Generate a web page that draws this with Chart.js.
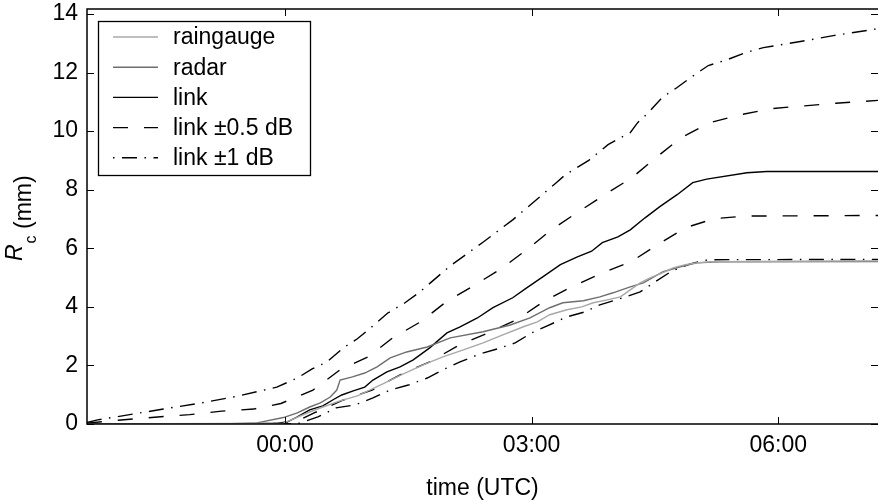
<!DOCTYPE html>
<html>
<head>
<meta charset="utf-8">
<script src="https://cdn.jsdelivr.net/npm/chart.js@4.4.1/dist/chart.umd.min.js"></script>
<style>
  html, body { margin: 0; padding: 0; background: #fff; }
  #wrap { width: 878px; height: 502px; }
</style>
</head>
<body>
<div id="wrap"><canvas id="rainChart" width="878" height="502"></canvas></div>
<script>
// hours relative to 00:00 UTC, cumulative rain in mm
var gaugeTime = [-2.41, -0.55, -0.02, 0.30, 0.46, 0.67, 0.88, 1.03, 1.19, 1.44, 1.68, 1.92, 2.17, 2.41, 2.65, 2.90, 3.07, 3.22, 3.43, 3.61, 3.75, 3.92, 4.08, 4.20, 4.32, 4.44, 4.59, 4.72, 4.87, 5.01, 5.17, 7.22];
var gaugeRain = [0, 0.02, 0.03, 0.41, 0.58, 0.79, 0.96, 1.16, 1.37, 1.71, 2.02, 2.29, 2.53, 2.77, 3.04, 3.32, 3.49, 3.73, 3.90, 4.00, 4.14, 4.24, 4.34, 4.58, 4.82, 4.99, 5.16, 5.33, 5.44, 5.50, 5.54, 5.57];

var radarTime = [-2.41, -0.67, -0.34, -0.02, 0.15, 0.30, 0.43, 0.55, 0.63, 0.67, 0.82, 0.97, 1.12, 1.28, 1.48, 1.73, 2.01, 2.41, 2.74, 2.98, 3.22, 3.38, 3.63, 3.83, 3.99, 4.20, 4.36, 4.60, 4.81, 5.01, 5.29, 7.22];
var radarRain = [0, 0.01, 0.04, 0.22, 0.38, 0.58, 0.72, 0.92, 1.16, 1.50, 1.61, 1.74, 1.95, 2.26, 2.46, 2.63, 2.94, 3.15, 3.38, 3.62, 3.97, 4.14, 4.21, 4.34, 4.48, 4.68, 4.82, 5.20, 5.37, 5.50, 5.54, 5.55];

var linkTime = [-2.41, -0.5, 0.0, 0.15, 0.30, 0.46, 0.58, 0.69, 0.83, 0.97, 1.07, 1.24, 1.40, 1.56, 1.76, 1.97, 2.13, 2.34, 2.53, 2.77, 2.94, 3.14, 3.35, 3.55, 3.73, 3.86, 4.05, 4.20, 4.38, 4.56, 4.77, 4.96, 5.13, 5.62, 5.86, 7.22];
var linkRain = [0, 0.01, 0.03, 0.24, 0.48, 0.62, 0.82, 0.99, 1.13, 1.26, 1.50, 1.78, 1.95, 2.19, 2.60, 3.11, 3.32, 3.62, 3.97, 4.31, 4.65, 5.03, 5.44, 5.70, 5.90, 6.19, 6.39, 6.63, 7.04, 7.42, 7.83, 8.24, 8.36, 8.58, 8.62, 8.62];

var linkHalfUpTime = [-2.41, -2.03, -1.55, -1.16, -0.77, -0.38, -0.05, 0.34, 0.67, 1.01, 1.31, 1.65, 1.96, 2.27, 2.63, 2.94, 3.24, 3.56, 3.89, 4.22, 4.51, 4.82, 5.17, 5.54, 5.92, 6.30, 6.70, 7.22];
var linkHalfUpRain = [0.03, 0.13, 0.24, 0.32, 0.44, 0.51, 0.70, 1.16, 1.85, 2.29, 2.94, 3.49, 4.17, 4.68, 5.30, 5.95, 6.63, 7.23, 7.83, 8.41, 9.09, 9.78, 10.29, 10.56, 10.77, 10.86, 10.95, 11.05];

var linkHalfDownTime = [-2.41, -0.5, -0.1, 0.18, 0.38, 0.71, 1.06, 1.44, 1.76, 2.12, 2.47, 2.82, 3.16, 3.50, 3.86, 4.21, 4.53, 4.87, 5.22, 5.60, 7.22];
var linkHalfDownRain = [0, 0, 0.02, 0.14, 0.41, 0.82, 1.16, 1.74, 2.12, 2.70, 3.11, 3.56, 4.21, 4.70, 5.16, 5.54, 6.12, 6.70, 7.01, 7.10, 7.12];

var linkOneUpTime = [-2.41, -2.28, -1.48, -1.02, -0.56, -0.10, 0.15, 0.33, 0.51, 0.71, 0.88, 1.07, 1.25, 1.46, 1.64, 2.01, 2.40, 2.77, 3.13, 3.30, 3.41, 3.69, 3.93, 4.20, 4.29, 4.42, 4.59, 4.77, 4.95, 5.15, 5.38, 5.60, 5.82, 6.27, 6.67, 7.22];
var linkOneUpRain = [0.05, 0.14, 0.51, 0.72, 0.96, 1.26, 1.57, 1.88, 2.12, 2.60, 2.91, 3.35, 3.79, 4.14, 4.51, 5.40, 6.19, 6.97, 7.83, 8.24, 8.51, 8.99, 9.54, 9.95, 10.29, 10.63, 11.15, 11.49, 11.86, 12.24, 12.44, 12.68, 12.85, 13.06, 13.26, 13.50];

var linkOneDownTime = [-2.41, 0.0, 0.18, 0.40, 0.62, 0.85, 1.07, 1.28, 1.50, 1.73, 1.92, 2.13, 2.37, 2.58, 2.80, 3.00, 3.19, 3.43, 3.65, 3.83, 4.11, 4.32, 4.50, 4.71, 4.93, 5.15, 7.22];
var linkOneDownRain = [0, 0, 0.03, 0.24, 0.55, 0.65, 0.89, 1.16, 1.33, 1.57, 1.85, 2.12, 2.39, 2.56, 2.77, 3.11, 3.35, 3.66, 3.83, 4.07, 4.31, 4.51, 4.85, 5.23, 5.47, 5.61, 5.62];

var xTickHours = [0, 3, 6];
var xTickLabels = ['00:00', '03:00', '06:00'];
var yTickValues = [0, 2, 4, 6, 8, 10, 12, 14];

var FONT = '"Liberation Sans", Arial, Helvetica, sans-serif';
var DASHED = [15, 16];
var DASHDOT = [15, 7.5, 1.5, 7.5];

function pairs(times, values) {
    var out = [];
    for (var i = 0; i < times.length; i++) out.push({ x: times[i], y: values[i] });
    return out;
}

function line(label, times, values, color, dash, legendDash) {
    return {
        label: label,
        data: pairs(times, values),
        borderColor: color,
        borderWidth: 1.4,
        borderDash: dash,
        legendDash: legendDash,
        pointRadius: 0,
        tension: 0,
        fill: false
    };
}

var datasets = [
    line('raingauge', gaugeTime, gaugeRain, '#a8a8a8', [], []),
    line('radar', radarTime, radarRain, '#6e6e6e', [], []),
    line('link', linkTime, linkRain, '#000', [], []),
    line('link \u00b10.5 dB', linkHalfUpTime, linkHalfUpRain, '#000', DASHED, DASHED),
    line('', linkHalfDownTime, linkHalfDownRain, '#000', DASHED, null),
    line('link \u00b11 dB', linkOneUpTime, linkOneUpRain, '#000', DASHDOT, [1.5, 7.5, 15, 7.5]),
    line('', linkOneDownTime, linkOneDownRain, '#000', DASHDOT, null)
];

// frame, inward ticks, y title and legend box
var decorPlugin = {
    id: 'decor',
    afterDraw: function (chart) {
        var ctx = chart.ctx;
        var a = chart.chartArea;
        var xs = chart.scales.x, ys = chart.scales.y;
        ctx.save();

        ctx.strokeStyle = '#000';
        ctx.lineWidth = 1.5;
        ctx.beginPath();
        ctx.moveTo(a.right + 2, a.top);
        ctx.lineTo(a.left, a.top);
        ctx.lineTo(a.left, a.bottom);
        ctx.lineTo(a.right + 2, a.bottom);
        ctx.stroke();

        ctx.lineWidth = 1;
        ctx.beginPath();
        xTickHours.forEach(function (h) {
            var px = Math.round(xs.getPixelForValue(h)) + 0.5;
            ctx.moveTo(px, a.bottom); ctx.lineTo(px, a.bottom - 7);
            ctx.moveTo(px, a.top); ctx.lineTo(px, a.top + 7);
        });
        yTickValues.forEach(function (v) {
            var py = Math.round(ys.getPixelForValue(v)) + 0.5;
            ctx.moveTo(a.left, py); ctx.lineTo(a.left + 7, py);
            ctx.moveTo(a.right, py); ctx.lineTo(a.right - 7, py);
        });
        ctx.stroke();

        // y axis title: R_c (mm)
        ctx.save();
        ctx.translate(22, 261);
        ctx.rotate(-Math.PI / 2);
        ctx.fillStyle = '#000';
        ctx.textBaseline = 'alphabetic';
        ctx.textAlign = 'left';
        ctx.font = 'italic 23px ' + FONT;
        ctx.fillText('R', 0, 0);
        var w = ctx.measureText('R').width;
        ctx.font = '16px ' + FONT;
        ctx.fillText('c', w + 1, 14);
        w += ctx.measureText('c').width + 1;
        ctx.font = '23px ' + FONT;
        ctx.fillText(' (mm)', w, 9);
        ctx.restore();

        // legend
        var lx = 98.5, ly = 21.5, lw = 212, lh = 154;
        ctx.fillStyle = '#fff';
        ctx.fillRect(lx, ly, lw, lh);
        ctx.strokeStyle = '#000';
        ctx.lineWidth = 1.3;
        ctx.strokeRect(lx, ly, lw, lh);
        var row = 0;
        ctx.font = '23px ' + FONT;
        ctx.textBaseline = 'middle';
        chart.data.datasets.forEach(function (ds) {
            if (!ds.legendDash) return;
            var y = 37 + row * 30.2;
            ctx.strokeStyle = ds.borderColor;
            ctx.lineWidth = ds.borderWidth;
            ctx.setLineDash(ds.legendDash);
            ctx.beginPath();
            ctx.moveTo(113, y);
            ctx.lineTo(158, y);
            ctx.stroke();
            ctx.setLineDash([]);
            ctx.fillStyle = '#000';
            ctx.fillText(ds.label, 173, y + 1);
            row++;
        });
        ctx.restore();
    }
};

var font = { family: FONT, size: 23 };

new Chart(document.getElementById('rainChart'), {
    type: 'line',
    data: { datasets: datasets },
    options: {
        responsive: false,
        animation: false,
        layout: { padding: { top: 9, right: 0, left: 0, bottom: 0 } },
        plugins: { legend: { display: false }, tooltip: { enabled: false } },
        scales: {
            x: {
                type: 'linear',
                min: -2.409,
                max: 7.214,
                grid: { display: false, drawTicks: false },
                border: { display: false },
                ticks: {
                    padding: 8,
                    color: '#000',
                    font: font,
                    maxRotation: 0,
                    autoSkip: false,
                    callback: function (value) {
                        var i = xTickHours.indexOf(value);
                        return i >= 0 ? xTickLabels[i] : '';
                    }
                },
                title: { display: true, text: 'time (UTC)', color: '#000', font: font, padding: 0 },
                afterBuildTicks: function (s) {
                    s.ticks = xTickHours.map(function (h) { return { value: h }; });
                },
                afterFit: function (s) {
                    s.height = 78;
                    s.paddingLeft = 0;
                    s.paddingRight = 0;
                }
            },
            y: {
                min: 0,
                max: 14.17,
                grid: { display: false, drawTicks: false },
                border: { display: false },
                ticks: { padding: 9, color: '#000', font: font },
                afterBuildTicks: function (s) {
                    s.ticks = yTickValues.map(function (v) { return { value: v }; });
                },
                afterFit: function (s) {
                    s.width = 87;
                    s.paddingTop = 0;
                    s.paddingBottom = 0;
                }
            }
        }
    },
    plugins: [decorPlugin]
});
</script>
</body>
</html>
